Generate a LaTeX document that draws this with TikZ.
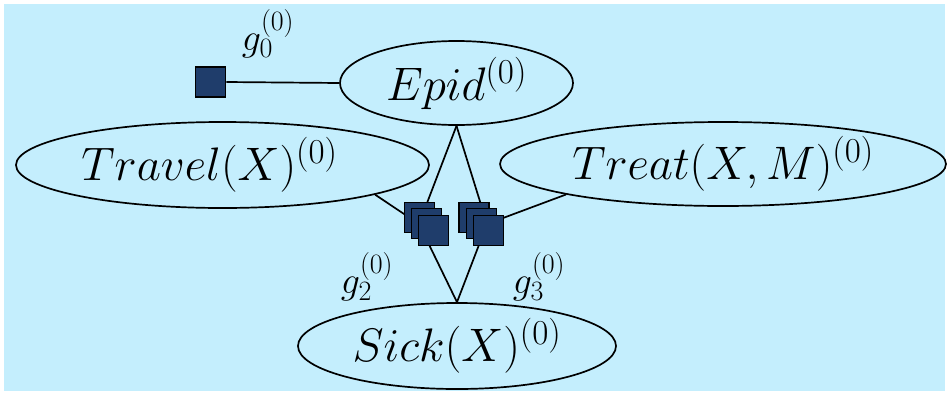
\RequirePackage{fix-cm}
\documentclass[tikz,border=0pt]{standalone}
\usetikzlibrary{shapes.geometric}
\definecolor{bgblue}{HTML}{C4EEFD}
\definecolor{facblue}{HTML}{1F3D6B}
\DeclareMathSizes{47}{47}{35}{25}
\DeclareMathSizes{38}{38}{28}{20}
\begin{document}
\begin{tikzpicture}[x=1pt,y=-1pt,
  var/.style={ellipse, draw, line width=1.7pt, inner sep=0pt, font=\fontsize{47}{52}\selectfont},
  facbox/.style={draw, fill=facblue, line width=1.7pt, minimum size=30pt, inner sep=0pt},
  lab/.style={font=\fontsize{38}{42}\selectfont, inner sep=0pt},
  conn/.style={line width=1.7pt}]
\useasboundingbox (0,0) rectangle (948,394);
\fill[white] (0,0) rectangle (948,394);
\fill[bgblue] (4,4) rectangle (945,391);
% variables
\node[var, minimum width=233pt, minimum height=84pt] (epid) at (456.5,83) {$Epid^{(0)}$};
\node[var, minimum width=413pt, minimum height=86pt] (travel) at (222.5,165) {\hspace*{-26pt}$Travel(X)^{(0)}$};
\node[var, minimum width=446pt, minimum height=84pt] (treat) at (723,164) {$Treat(X,M)^{(0)}$};
\node[var, minimum width=318pt, minimum height=86pt] (sick) at (457,346) {$Sick(X)^{(0)}$};
% factor centres
\coordinate (g2c) at (419,224);
\coordinate (g3c) at (487,224);
% connectors
\node[facbox] (g0) at (210.5,82) {};
\draw[conn] (g0.east) -- (epid.west);
\draw[conn] (epid.south) -- (g2c);
\draw[conn] (epid.south) -- (g3c);
\draw[conn] (travel.-11.5) -- (g2c);
\draw[conn] (treat.191) -- (g3c);
\draw[conn] (sick.north) -- (g2c);
\draw[conn] (sick.north) -- (g3c);
% factor stacks
\node[facbox] (g2a) at (419.5,217.5) {};
\node[facbox] (g2b) at (426.5,223.5) {};
\node[facbox] (g2d) at (433.5,230.5) {};
\node[facbox] (g3a) at (474,217.5) {};
\node[facbox] (g3b) at (481.5,223.5) {};
\node[facbox] (g3d) at (488.5,230.5) {};
% labels
\node[lab] (lg0) at (268,34) {$g_0^{(0)}$};
\node[lab] (lg2) at (367,277) {$g_2^{(0)}$};
\node[lab] (lg3) at (539,277) {$g_3^{(0)}$};
\end{tikzpicture}
\end{document}
